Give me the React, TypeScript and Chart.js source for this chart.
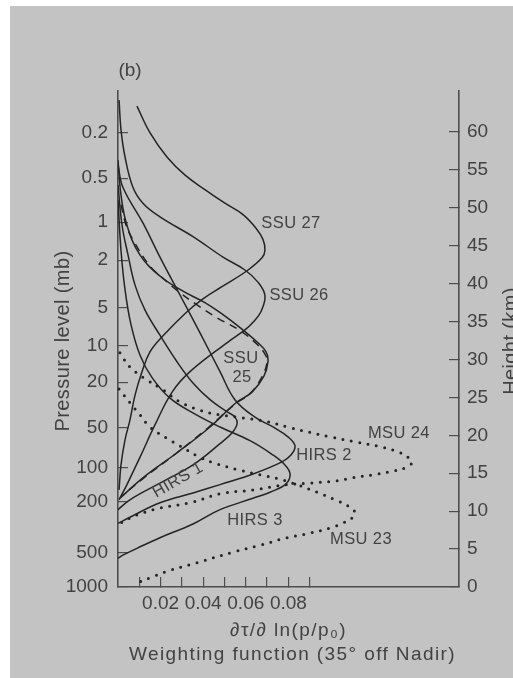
import React, { useEffect, useRef } from 'react';
import { Chart, registerables } from 'chart.js';

Chart.register(...registerables);

// ---------- axis data ----------
const pressureLabels = ['1000', '500', '200', '100', '50', '20', '10', '5', '2', '1', '0.5', '0.2'];
const pressureHeights = [0, 4.5, 11.2, 15.7, 21.0, 27.0, 31.8, 36.8, 43.1, 48.1, 53.9, 59.9];
const heightTicks = [0, 5, 10, 15, 20, 25, 30, 35, 40, 45, 50, 55, 60];
const xTickValues = [0.01, 0.02, 0.03, 0.04, 0.05, 0.06, 0.07, 0.08, 0.09];
const xTickLabels = ['', '0.02', '', '0.04', '', '0.06', '', '0.08', ''];
const X_MAX = 0.1601;
const H_MAX = 65.4;

// ---------- series (x = weighting function, h = height km) ----------
const ssu27X = [0.0089, 0.015, 0.023, 0.0315, 0.0408, 0.0502, 0.0587, 0.0648, 0.0681, 0.069, 0.0676, 0.0606, 0.0488, 0.0399, 0.0324, 0.0207, 0.015, 0.0113, 0.008, 0.0056, 0.0033, 0.0014, 0.0005];
const ssu27H = [63.4, 59.9, 56.7, 54.3, 52.4, 50.6, 49.1, 47.3, 45.8, 44.4, 43.4, 41.7, 39.6, 38.0, 36.3, 33.0, 31.0, 28.4, 25.3, 22.0, 19.4, 16.1, 12.8];

const ssu26X = [0.0005, 0.0014, 0.0033, 0.007, 0.0117, 0.0197, 0.0352, 0.0493, 0.0596, 0.0657, 0.069, 0.0671, 0.0634, 0.0596, 0.0516, 0.0338, 0.0254, 0.0174, 0.0103, 0.0042, 0.0005];
const ssu26H = [64.2, 60.3, 56.7, 52.7, 50.6, 48.8, 46.2, 43.5, 41.8, 40.2, 38.4, 36.3, 34.9, 33.9, 32.3, 28.4, 25.7, 21.4, 17.1, 13.5, 11.5];

const ssu25X = [0.0, 0.0014, 0.0042, 0.0103, 0.0197, 0.0305, 0.0408, 0.0488, 0.0573, 0.0653, 0.0695, 0.0704, 0.0685, 0.0629, 0.0554, 0.0432, 0.0277, 0.0117, 0.0009];
const ssu25H = [56.3, 51.7, 47.7, 43.8, 41.0, 39.0, 37.5, 36.0, 34.2, 32.3, 31.0, 29.7, 27.8, 25.7, 24.3, 21.1, 17.7, 14.4, 11.7];

const ssu25DashX = [0.0014, 0.0038, 0.007, 0.015, 0.0211, 0.0291, 0.0371, 0.0465, 0.0573, 0.0653, 0.069, 0.07, 0.0676, 0.062, 0.0549, 0.0423, 0.0268, 0.0113, 0.0014];
const ssu25DashH = [50.4, 47.7, 45.8, 42.3, 40.7, 38.8, 37.2, 35.5, 33.8, 32.0, 30.7, 29.7, 27.7, 25.5, 24.1, 21.0, 17.5, 14.2, 11.9];

const hirs1X = [0.0, 0.0019, 0.0047, 0.008, 0.0127, 0.0197, 0.0277, 0.0352, 0.0432, 0.0507, 0.0549, 0.0559, 0.0535, 0.0479, 0.0352, 0.0197, 0.0056, 0.0];
const hirs1H = [53.0, 47.7, 43.8, 39.8, 36.5, 33.2, 29.7, 26.9, 24.7, 23.2, 22.4, 21.5, 20.3, 18.9, 16.1, 13.7, 11.5, 10.2];

const hirs2X = [0.0, 0.0023, 0.0117, 0.0197, 0.0291, 0.0385, 0.0479, 0.0549, 0.0643, 0.0728, 0.0798, 0.0831, 0.0812, 0.077, 0.0634, 0.0479, 0.0352, 0.0197, 0.0056, 0.0];
const hirs2H = [55.7, 52.7, 48.0, 43.5, 38.5, 33.5, 28.4, 24.7, 22.4, 21.1, 19.8, 18.6, 17.4, 16.5, 14.9, 13.5, 12.4, 11.1, 9.2, 8.4];

const hirs3X = [0.0, 0.0014, 0.0033, 0.0061, 0.0103, 0.016, 0.0244, 0.0362, 0.0479, 0.062, 0.0723, 0.0784, 0.0808, 0.0789, 0.0714, 0.0634, 0.0479, 0.0352, 0.0197, 0.0089, 0.0023, 0.0];
const hirs3H = [51.0, 44.4, 39.2, 34.6, 30.6, 27.6, 24.9, 22.8, 21.1, 19.3, 17.5, 16.1, 14.9, 13.6, 12.5, 11.7, 10.2, 8.3, 6.5, 5.1, 4.2, 3.8];

const msu24X = [0.0009, 0.0056, 0.0136, 0.0211, 0.0291, 0.0385, 0.0479, 0.0587, 0.07, 0.0808, 0.0995, 0.1122, 0.123, 0.1324, 0.1371, 0.138, 0.1357, 0.1277, 0.1197, 0.1103, 0.1028, 0.0901, 0.0793, 0.0634, 0.0479, 0.0352, 0.0197, 0.0089, 0.0009];
const msu24H = [30.9, 29.0, 27.3, 26.0, 24.4, 23.3, 22.7, 22.3, 21.8, 21.0, 19.8, 19.1, 18.5, 17.7, 16.9, 16.4, 15.8, 15.2, 14.8, 14.4, 14.0, 13.7, 13.5, 12.8, 12.3, 11.2, 10.4, 9.5, 8.4];

const msu23X = [0.0005, 0.0056, 0.0103, 0.015, 0.023, 0.0291, 0.0371, 0.0446, 0.0573, 0.0667, 0.0761, 0.084, 0.0934, 0.1019, 0.108, 0.1113, 0.1094, 0.1052, 0.1009, 0.0901, 0.0793, 0.0667, 0.054, 0.0371, 0.0244, 0.015, 0.0103];
const msu23H = [26.1, 24.3, 22.7, 21.1, 19.6, 18.6, 17.3, 16.4, 15.4, 14.8, 14.2, 13.5, 12.5, 11.5, 10.7, 9.8, 9.0, 8.4, 7.9, 7.1, 6.5, 5.5, 4.6, 3.2, 2.2, 1.2, 0.7];

// ---------- curve labels ----------
const curveLabelTexts = ['SSU 27', 'SSU 26', 'SSU', '25', 'MSU 24', 'HIRS 2', 'HIRS 1', 'HIRS 3', 'MSU 23'];
const curveLabelX = [0.0812, 0.085, 0.0577, 0.0582, 0.1319, 0.0967, 0.0282, 0.0643, 0.1141];
const curveLabelH = [47.9, 38.4, 30.1, 27.6, 20.3, 17.4, 14.1, 8.8, 6.3];
const curveLabelRot = [0, 0, 0, 0, 0, 0, -30, 0, 0];

const FONT = '"Liberation Sans", Arial, Helvetica, sans-serif';
const TEXT = '#424242';
const LINE = '#242424';
const AXIS = '#4d4d4d';

function makeSet(xs: number[], hs: number[], kind: 'solid' | 'dash' | 'dot') {
  return {
    data: xs.map((x, i) => ({ x, y: hs[i] })),
    showLine: true,
    pointRadius: 0,
    pointHoverRadius: 0,
    borderColor: LINE,
    borderWidth: kind === 'dot' ? 3 : 1.5,
    borderDash: kind === 'dot' ? [0, 8.5] : kind === 'dash' ? [8, 6] : [],
    borderCapStyle: kind === 'dot' ? 'round' : 'butt',
    tension: 0.4,
    fill: false,
  };
}

const textPlugin = {
  id: 'extraTexts',
  afterDraw(chart: any) {
    const ctx = chart.ctx as CanvasRenderingContext2D;
    const xs = chart.scales.x;
    const ys = chart.scales.y;
    const area = chart.chartArea;
    ctx.save();
    ctx.fillStyle = TEXT;
    ctx.textAlign = 'center';
    ctx.textBaseline = 'middle';

    // curve labels
    ctx.font = `16.5px ${FONT}`;
    (ctx as any).letterSpacing = '0.4px';
    curveLabelTexts.forEach((t, i) => {
      const px = xs.getPixelForValue(curveLabelX[i]);
      const py = ys.getPixelForValue(curveLabelH[i]);
      ctx.save();
      ctx.translate(px, py);
      ctx.rotate((curveLabelRot[i] * Math.PI) / 180);
      ctx.fillText(t, 0, 0);
      ctx.restore();
    });

    // panel mark
    (ctx as any).letterSpacing = '0px';
    ctx.font = `19px ${FONT}`;
    ctx.fillText('(b)', area.left + 12, area.top - 20);

    // left axis title
    const midY = (area.top + area.bottom) / 2 + 2;
    ctx.font = `20px ${FONT}`;
    (ctx as any).letterSpacing = '0.4px';
    ctx.save();
    ctx.translate(63, midY);
    ctx.rotate(-Math.PI / 2);
    ctx.fillText('Pressure level (mb)', 0, 0);
    ctx.restore();

    // right axis title (partly outside the picture)
    ctx.save();
    ctx.translate(area.right + 58, midY);
    ctx.rotate(-Math.PI / 2);
    ctx.textBaseline = 'alphabetic';
    ctx.fillText('Height (km)', 0, 0);
    ctx.restore();

    // bottom titles
    ctx.font = `19px ${FONT}`;
    (ctx as any).letterSpacing = '1.4px';
    ctx.fillText('\u2202\u03C4/\u2202 ln(p/p\u2080)', (area.left + area.right) / 2, area.bottom + 44);
    ctx.fillText('Weighting function (35\u00B0 off Nadir)', (area.left + area.right) / 2 + 4, area.bottom + 68);
    (ctx as any).letterSpacing = '0px';
    ctx.restore();
  },
};

const tickFont = { family: FONT, size: 19 };
const gridOpts = { drawOnChartArea: false, drawTicks: true, tickLength: -10, color: AXIS, lineWidth: 1.2 };
const borderOpts = { display: true, color: AXIS, width: 1.6 };

function zeroPad(axis: any) {
  axis.paddingTop = 0;
  axis.paddingBottom = 0;
  axis.paddingLeft = 0;
  axis.paddingRight = 0;
}

export default function App() {
  const ref = useRef<HTMLCanvasElement>(null);

  useEffect(() => {
    document.body.style.margin = '0';
    const canvas = ref.current;
    if (!canvas) return;
    const chart = new Chart(canvas, {
      type: 'scatter',
      data: {
        datasets: [
          makeSet(ssu27X, ssu27H, 'solid'),
          makeSet(ssu26X, ssu26H, 'solid'),
          makeSet(ssu25X, ssu25H, 'solid'),
          makeSet(ssu25DashX, ssu25DashH, 'dash'),
          makeSet(hirs1X, hirs1H, 'solid'),
          makeSet(hirs2X, hirs2H, 'solid'),
          makeSet(hirs3X, hirs3H, 'solid'),
          makeSet(msu24X, msu24H, 'dot'),
          makeSet(msu23X, msu23H, 'dot'),
        ] as any,
      },
      options: {
        responsive: false,
        animation: false,
        events: [],
        layout: { padding: { top: 91, left: 0, right: 0, bottom: 0 } },
        plugins: { legend: { display: false }, tooltip: { enabled: false } },
        scales: {
          x: {
            type: 'linear',
            position: 'bottom',
            min: 0,
            max: X_MAX,
            afterBuildTicks: (axis: any) => {
              axis.ticks = xTickValues.map((v) => ({ value: v }));
            },
            afterFit: (axis: any) => {
              axis.height = 91;
              zeroPad(axis);
            },
            ticks: {
              autoSkip: false,
              maxRotation: 0,
              padding: 15,
              color: TEXT,
              font: tickFont,
              callback: (_v: any, i: number) => xTickLabels[i],
            },
            grid: gridOpts,
            border: borderOpts,
          },
          y: {
            type: 'linear',
            position: 'left',
            min: 0,
            max: H_MAX,
            afterBuildTicks: (axis: any) => {
              axis.ticks = pressureHeights.map((v) => ({ value: v }));
            },
            afterFit: (axis: any) => {
              axis.width = 118;
              zeroPad(axis);
            },
            ticks: {
              autoSkip: false,
              padding: 20,
              color: TEXT,
              font: tickFont,
              callback: (_v: any, i: number) => pressureLabels[i],
            },
            grid: gridOpts,
            border: borderOpts,
          },
          y2: {
            type: 'linear',
            position: 'right',
            min: 0,
            max: H_MAX,
            afterBuildTicks: (axis: any) => {
              axis.ticks = heightTicks.map((v) => ({ value: v }));
            },
            afterFit: (axis: any) => {
              axis.width = 54;
              zeroPad(axis);
            },
            ticks: {
              autoSkip: false,
              padding: 18,
              color: TEXT,
              font: tickFont,
              callback: (_v: any, i: number) => String(heightTicks[i]),
            },
            grid: gridOpts,
            border: borderOpts,
          },
        },
      } as any,
      plugins: [textPlugin],
    });
    return () => chart.destroy();
  }, []);

  return (
    <div style={{ position: 'relative', width: 513, height: 678, background: '#ffffff', overflow: 'hidden' }}>
      <div style={{ position: 'absolute', left: 10, top: 6, right: 0, bottom: 0, background: '#c3c3c3' }} />
      <canvas ref={ref} width={513} height={678} style={{ position: 'absolute', left: 0, top: 0 }} />
    </div>
  );
}
